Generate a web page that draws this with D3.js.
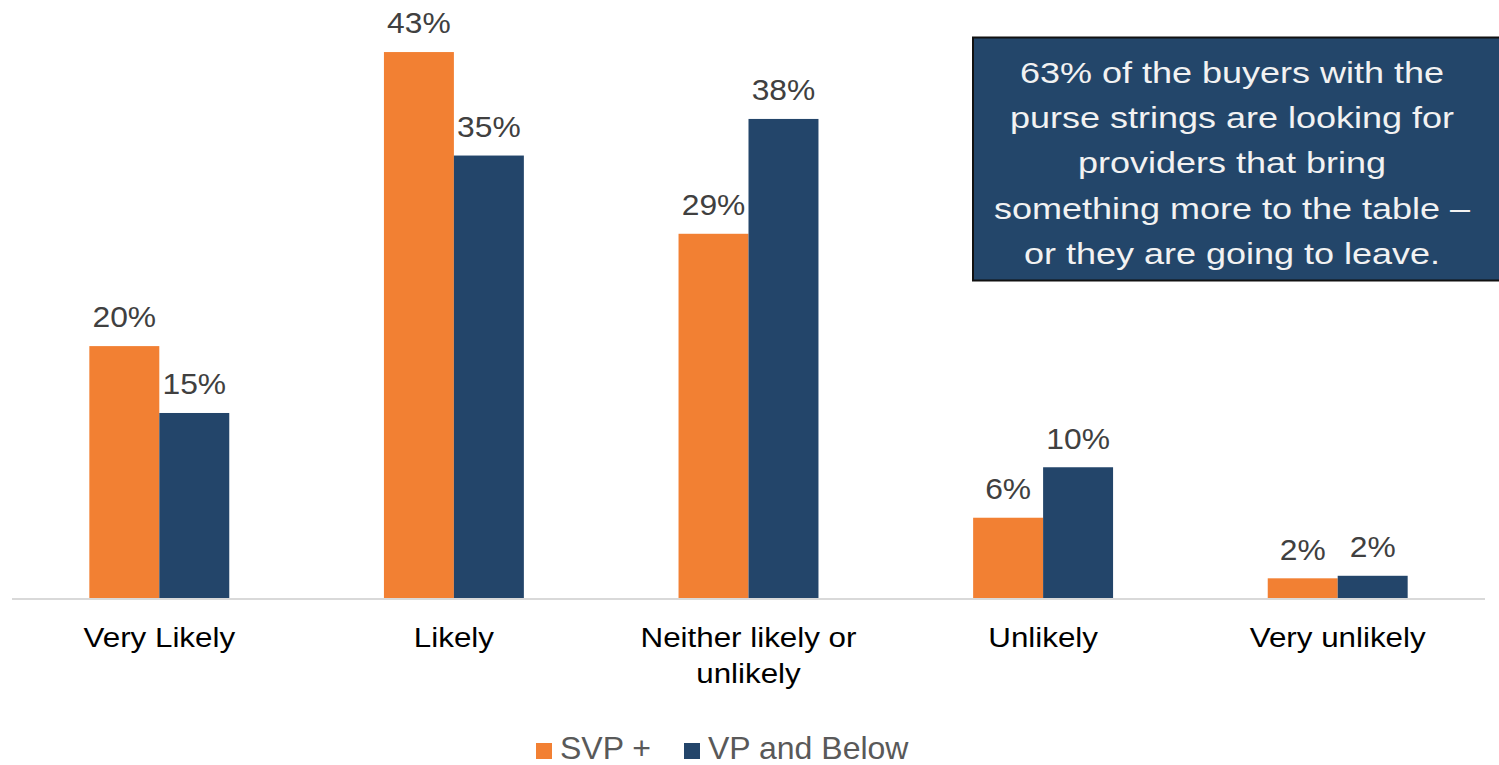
<!DOCTYPE html>
<html>
<head>
<meta charset="utf-8">
<script src="https://cdn.jsdelivr.net/npm/d3@7"></script>
<style>
  body { margin: 0; background: #fff; }
  text { font-family: "Liberation Sans", Arial, sans-serif; }
</style>
</head>
<body>
<div class="container"></div>
<script>
// chart data
var categories = ["Very Likely", "Likely", "Neither likely or unlikely", "Unlikely", "Very unlikely"];
var seriesNames = ["SVP +", "VP and Below"];
var svpValues = [20.0, 43.3, 28.9, 6.4, 1.6];
var vpValues = [14.7, 35.1, 38.0, 10.4, 1.8];
var seriesColors = ["#f28033", "#23456a"];
var calloutLines = [
  "63% of the buyers with the",
  "purse strings are looking for",
  "providers that bring",
  "something more to the table \u2013",
  "or they are going to leave."
];

var width = 1499, height = 765;

const svg = d3.select(".container").append("svg")
  .attr("width", width)
  .attr("height", height);

// scales
var x0 = d3.scaleBand()
  .domain(categories)
  .range([12, 1485])
  .paddingInner(0.525)
  .paddingOuter(0.2625);

var x1 = d3.scaleBand()
  .domain(seriesNames)
  .range([0, x0.bandwidth()]);

var y = d3.scaleLinear()
  .domain([0, 45])
  .range([598.5, 30.6]);

var color = d3.scaleOrdinal().domain(seriesNames).range(seriesColors);

var rows = categories.map(function (c, i) {
  return { cat: c, values: [
    { key: seriesNames[0], value: svpValues[i] },
    { key: seriesNames[1], value: vpValues[i] }
  ] };
});

// bars
var groups = svg.append("g")
  .selectAll("g")
  .data(rows)
  .join("g")
  .attr("transform", d => "translate(" + x0(d.cat) + ",0)");

groups.selectAll("rect")
  .data(d => d.values)
  .join("rect")
  .attr("x", d => x1(d.key))
  .attr("y", d => y(d.value))
  .attr("width", x1.bandwidth())
  .attr("height", d => y(0) - y(d.value))
  .attr("fill", d => color(d.key));

// value labels (source text is a bit wider than Arial, so stretch it)
groups.selectAll("text")
  .data(d => d.values)
  .join("text")
  .attr("transform", d => "translate(" + (x1(d.key) + x1.bandwidth() / 2) + "," + (y(d.value) - 18.7) + ") scale(1.06,1)")
  .attr("text-anchor", "middle")
  .attr("fill", "#404040")
  .style("font-size", "30px")
  .text(d => Math.round(d.value) + "%");

// baseline
svg.append("line")
  .attr("x1", x0.range()[0])
  .attr("x2", x0.range()[1])
  .attr("y1", y(0) + 0.5)
  .attr("y2", y(0) + 0.5)
  .attr("stroke", "#d9d9d9")
  .attr("stroke-width", 2);

// category axis labels, wrapped
var xAxis = svg.append("g")
  .attr("transform", "translate(0," + y(0) + ")")
  .call(d3.axisBottom(x0).tickSize(0).tickPadding(0));
xAxis.select(".domain").remove();
xAxis.selectAll("text")
  .attr("fill", "#000")
  .attr("dy", null)
  .attr("y", 49)
  .attr("transform", "scale(1.1,1)")
  .style("font-size", "28.5px")
  .style("font-family", "'Liberation Sans', Arial, sans-serif")
  .each(function () { wrap(d3.select(this), 230); });

function wrap(text, maxW) {
  var words = text.text().split(/\s+/);
  var yy = text.attr("y");
  text.text(null);
  var line = [], lineNo = 0;
  var tspan = text.append("tspan").attr("x", 0).attr("y", yy);
  words.forEach(function (w) {
    line.push(w);
    tspan.text(line.join(" "));
    if (tspan.node().getComputedTextLength() > maxW && line.length > 1) {
      line.pop();
      tspan.text(line.join(" "));
      line = [w];
      lineNo++;
      tspan = text.append("tspan").attr("x", 0).attr("y", +yy + lineNo * 35.5).text(w);
    }
  });
}

// callout box
var box = svg.append("g");
box.append("rect")
  .attr("x", 973)
  .attr("y", 37.5)
  .attr("width", 540)
  .attr("height", 243)
  .attr("fill", "#23466a")
  .attr("stroke", "#111")
  .attr("stroke-width", 2);
box.selectAll("text")
  .data(calloutLines)
  .join("text")
  .attr("transform", (d, i) => "translate(1232," + (83 + i * 45.2) + ") scale(1.2,1)")
  .attr("text-anchor", "middle")
  .attr("fill", "#f2f2f2")
  .style("font-size", "30px")
  .text(d => d);

// legend
var legend = svg.append("g");
var legendX = [536, 684];
seriesNames.forEach(function (s, i) {
  legend.append("rect")
    .attr("x", legendX[i])
    .attr("y", 743)
    .attr("width", 16)
    .attr("height", 16)
    .attr("fill", color(s));
  legend.append("text")
    .attr("x", legendX[i] + 24)
    .attr("y", 759)
    .attr("fill", "#595959")
    .style("font-size", "32px")
    .text(s);
});
</script>
</body>
</html>
